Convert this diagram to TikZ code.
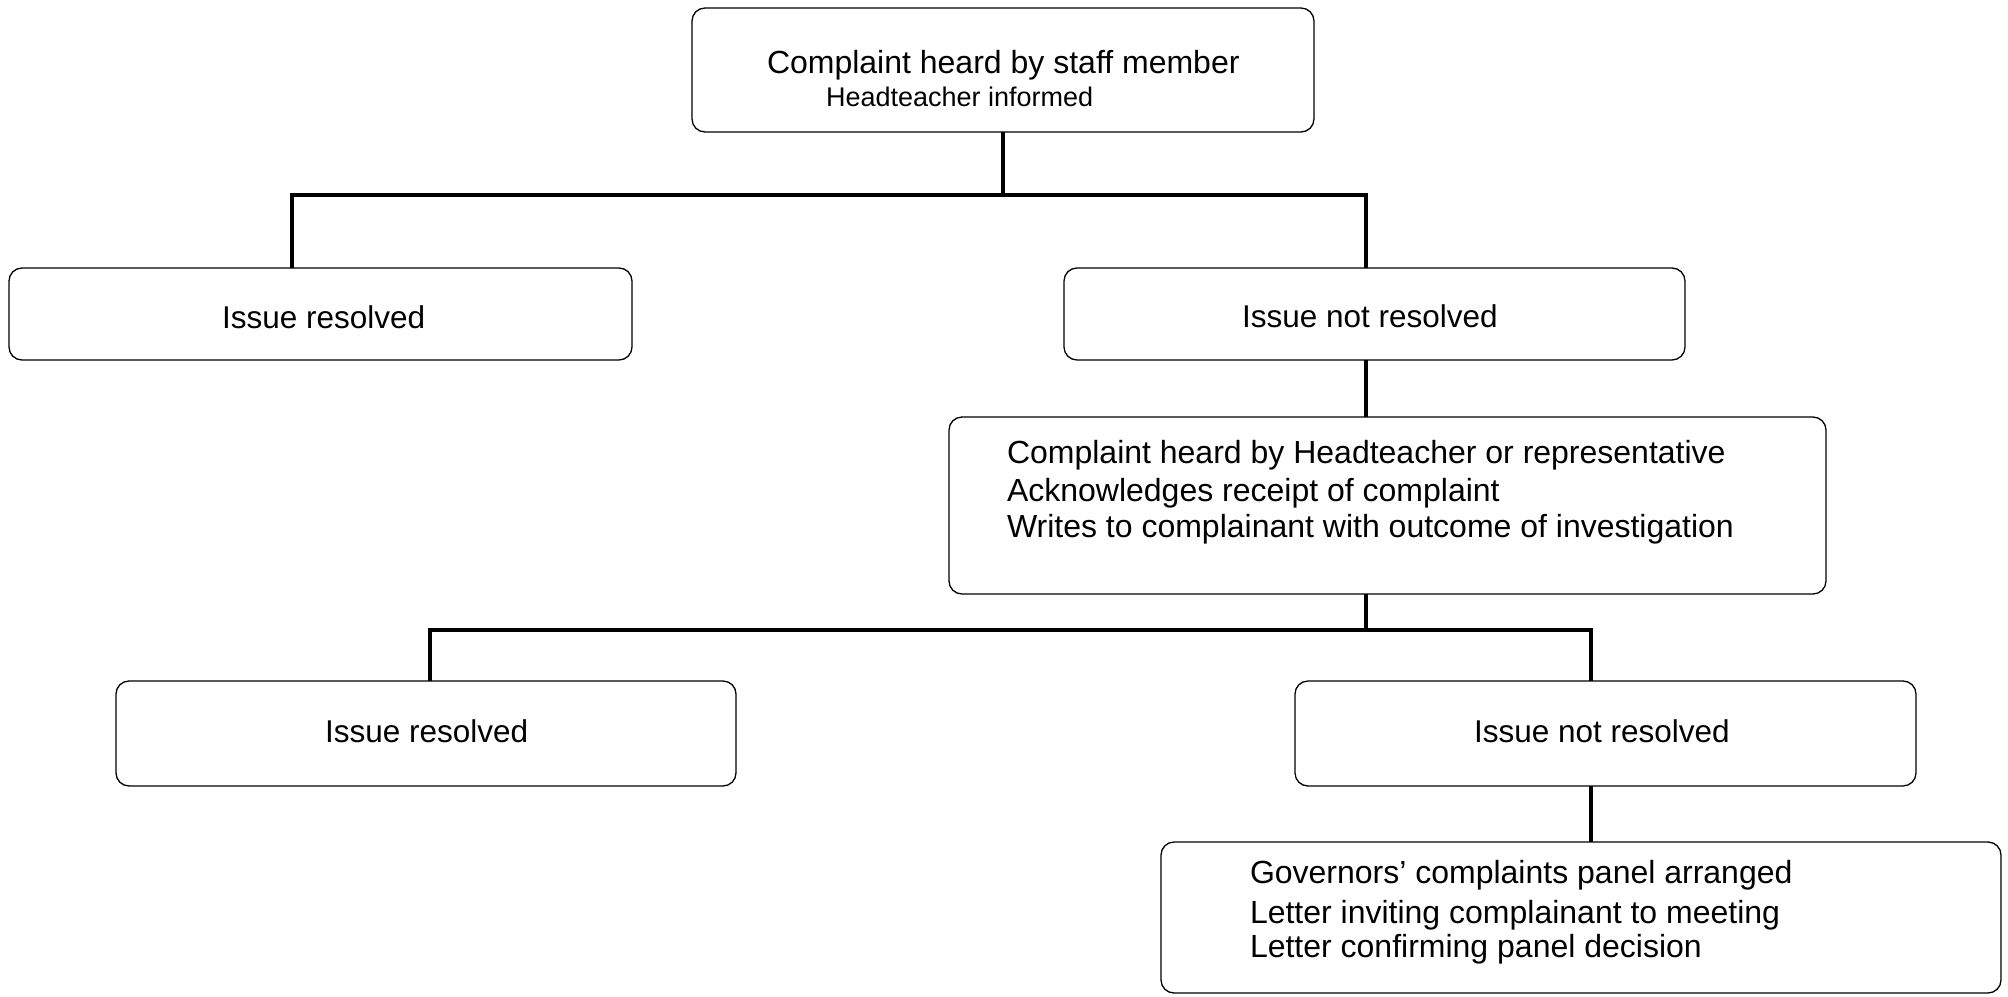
\documentclass[tikz,border=0pt]{standalone}
\usepackage{fontspec}
\setmainfont{Liberation Sans}
\begin{document}
\begin{tikzpicture}[x=1pt,y=-1pt,
  box/.style={draw=black, line width=1.3pt, rounded corners=13pt, inner sep=0pt, outer sep=0pt},
  conn/.style={draw=black, line width=4pt, line join=miter},
  txt/.style={inner sep=0pt, outer sep=0pt, anchor=base west, font=\fontsize{31.5}{37}\selectfont},
  bigtxt/.style={txt, font=\fontsize{32}{38}\selectfont}]
\useasboundingbox (0,0) rectangle (2008,996);
% boxes
\node[box, minimum width=622pt, minimum height=124pt] (b1) at (1003,70) {};
\node[box, minimum width=623pt, minimum height=92pt] (b2) at (320.5,314) {};
\node[box, minimum width=621pt, minimum height=92pt] (b3) at (1374.5,314) {};
\node[box, minimum width=877pt, minimum height=177pt] (b4) at (1387.5,505.5) {};
\node[box, minimum width=620pt, minimum height=105pt] (b5) at (426,733.5) {};
\node[box, minimum width=621pt, minimum height=105pt] (b6) at (1605.5,733.5) {};
\node[box, minimum width=840pt, minimum height=151pt] (b7) at (1581,917.5) {};
% texts
\node[bigtxt] (t1a) at (767,73) {Complaint heard by staff member};
\node[txt, font=\fontsize{27}{32}\selectfont] (t1b) at (826,106) {Headteacher informed};
\node[txt] (t2) at (222,328) {Issue resolved};
\node[txt] (t3) at (1242,327) {Issue not resolved};
\node[bigtxt] (t4a) at (1007,463) {Complaint heard by Headteacher or representative};
\node[bigtxt] (t4b) at (1007,501) {Acknowledges receipt of complaint};
\node[bigtxt] (t4c) at (1007,537) {Writes to complainant with outcome of investigation};
\node[txt] (t5) at (325,742) {Issue resolved};
\node[txt] (t6) at (1474,742) {Issue not resolved};
\node[bigtxt] (t7a) at (1250,883) {Governors’ complaints panel arranged};
\node[bigtxt] (t7b) at (1250,923) {Letter inviting complainant to meeting};
\node[bigtxt] (t7c) at (1250,957) {Letter confirming panel decision};
% junctions
\coordinate (h1L) at (292,195);
\coordinate (h1R) at (1366,195);
\coordinate (h2L) at (430,630);
\coordinate (h2R) at (1591,630);
% connectors
\draw[conn] (b1.south) -- (b1.south |- h1L);
\draw[conn] (h1L |- b2.north) -- (h1L) -- (h1R) -- (h1R |- b3.north);
\draw[conn] (h1R |- b3.south) -- (h1R |- b4.north);
\draw[conn] (h1R |- b4.south) -- (h1R |- h2L);
\draw[conn] (h2L |- b5.north) -- (h2L) -- (h2R) -- (h2R |- b6.north);
\draw[conn] (h2R |- b6.south) -- (h2R |- b7.north);
\end{tikzpicture}
\end{document}
